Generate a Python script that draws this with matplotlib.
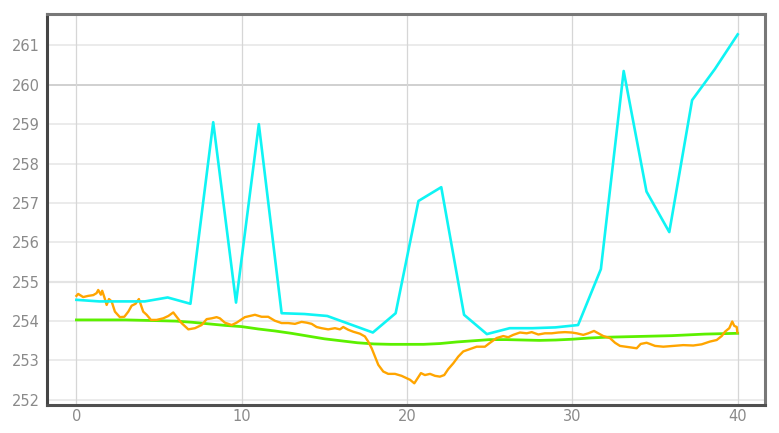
import numpy as np
import matplotlib
matplotlib.use("Agg")
import matplotlib.pyplot as plt

# cyan series: 30 samples evenly spread over 0..40
cyan_x = np.linspace(0, 40, 30)
cyan_y = [254.54, 254.50, 254.50, 254.50, 254.60, 254.44, 259.05, 254.47, 259.00, 254.20,
          254.18, 254.13, 253.92, 253.71, 254.20, 257.05, 257.40, 254.16, 253.67, 253.82,
          253.82, 253.84, 253.90, 255.32, 260.35, 257.29, 256.26, 259.61, 260.40, 261.28]

# green smooth trend, one value per unit
green_x = np.arange(0, 41)
green_y = [254.03, 254.03, 254.03, 254.03, 254.02, 254.01, 254.00, 253.97, 253.93, 253.89,
           253.86, 253.80, 253.75, 253.69, 253.62, 253.55, 253.50, 253.45, 253.42, 253.41,
           253.41, 253.41, 253.43, 253.47, 253.50, 253.53, 253.53, 253.52, 253.51, 253.52,
           253.54, 253.57, 253.59, 253.60, 253.61, 253.62, 253.63, 253.65, 253.67, 253.68,
           253.69]

# orange noisy series
orange_x = [0.00, 0.11, 0.41, 0.71, 1.02, 1.22, 1.32, 1.48, 1.56, 1.68, 1.83, 1.97, 2.13,
            2.33, 2.63, 2.90, 3.14, 3.34, 3.58, 3.78, 3.90, 4.04, 4.25, 4.51, 4.85, 5.25,
            5.56, 5.86, 6.06, 6.36, 6.77, 7.17, 7.57, 7.88, 8.18, 8.48, 8.68, 8.98, 9.39,
            9.69, 10.19, 10.80, 11.20, 11.60, 12.00, 12.41, 12.81, 13.22, 13.62, 13.93,
            14.23, 14.53, 14.83, 15.23, 15.64, 15.94, 16.14, 16.44, 16.75, 17.15, 17.45,
            17.65, 17.86, 18.06, 18.26, 18.56, 18.86, 19.27, 19.67, 19.98, 20.18, 20.44,
            20.64, 20.84, 21.08, 21.39, 21.69, 21.99, 22.25, 22.49, 22.80, 23.10, 23.40,
            23.81, 24.21, 24.71, 25.02, 25.42, 25.82, 26.12, 26.42, 26.83, 27.24, 27.54,
            27.94, 28.34, 28.75, 29.15, 29.55, 29.96, 30.26, 30.66, 30.96, 31.31, 31.57,
            31.87, 32.27, 32.58, 32.88, 33.38, 33.89, 34.13, 34.49, 34.69, 35.00, 35.50,
            36.10, 36.71, 37.31, 37.82, 38.32, 38.73, 39.03, 39.23, 39.49, 39.67, 39.79,
            39.94, 39.98]
orange_y = [254.64, 254.69, 254.61, 254.64, 254.66, 254.71, 254.79, 254.67, 254.77, 254.62,
            254.41, 254.56, 254.50, 254.24, 254.10, 254.11, 254.24, 254.39, 254.44, 254.56,
            254.41, 254.24, 254.16, 254.03, 254.03, 254.07, 254.13, 254.22, 254.11, 253.95,
            253.79, 253.82, 253.90, 254.05, 254.07, 254.10, 254.07, 253.96, 253.90, 253.96,
            254.10, 254.16, 254.11, 254.11, 254.01, 253.95, 253.95, 253.93, 253.98, 253.96,
            253.93, 253.85, 253.82, 253.79, 253.82, 253.79, 253.85, 253.78, 253.73, 253.68,
            253.61, 253.48, 253.31, 253.10, 252.89, 252.72, 252.66, 252.66, 252.61, 252.55,
            252.51, 252.42, 252.55, 252.68, 252.63, 252.66, 252.61, 252.59, 252.63, 252.78,
            252.93, 253.10, 253.23, 253.29, 253.35, 253.35, 253.45, 253.57, 253.62, 253.59,
            253.65, 253.71, 253.69, 253.72, 253.66, 253.69, 253.69, 253.71, 253.72, 253.71,
            253.69, 253.65, 253.69, 253.75, 253.69, 253.62, 253.57, 253.45, 253.37, 253.34,
            253.31, 253.42, 253.45, 253.42, 253.37, 253.35, 253.37, 253.39, 253.38, 253.41,
            253.48, 253.52, 253.62, 253.73, 253.82, 253.99, 253.88, 253.85, 253.71]

xticks = [0, 10, 20, 30, 40]
yticks = [252, 253, 254, 255, 256, 257, 258, 259, 260, 261]

fig = plt.figure(figsize=(7.79, 4.33), dpi=100)
ax = fig.add_axes([0.0603, 0.0647, 0.9217, 0.9041])

ax.set_xlim(-1.78, 41.65)
ax.set_ylim(251.87, 261.81)

# grid
for t in yticks:
    if t == 260:
        ax.axhline(t, color="#c4c4c4", lw=1.1, zorder=0)
    elif t == 255:
        ax.axhline(t, color="#e4e4e4", lw=1.6, zorder=0)
    else:
        ax.axhline(t, color="#e6e6e6", lw=1.1, zorder=0)
for t in xticks:
    ax.axvline(t, color="#d6d6d6", lw=0.9, zorder=0)

ax.plot(green_x, green_y, color="#5cf000", lw=2.0, zorder=2)
ax.plot(orange_x, orange_y, color="#ffa500", lw=1.7, zorder=3)
ax.plot(cyan_x, cyan_y, color="#0ff4f4", lw=1.9, zorder=4)

ax.set_xticks(xticks)
ax.set_yticks(yticks)
ax.tick_params(axis="x", length=0, colors="#8a8a8a", labelsize=10.5, pad=3)
ax.tick_params(axis="y", length=0, colors="#8a8a8a", labelsize=10.5, pad=5)

for side, col in [("left", "#454545"), ("bottom", "#505050"), ("top", "#787878"), ("right", "#787878")]:
    ax.spines[side].set_color(col)
    ax.spines[side].set_linewidth(2.2)

fig.savefig("out.png", dpi=100)
